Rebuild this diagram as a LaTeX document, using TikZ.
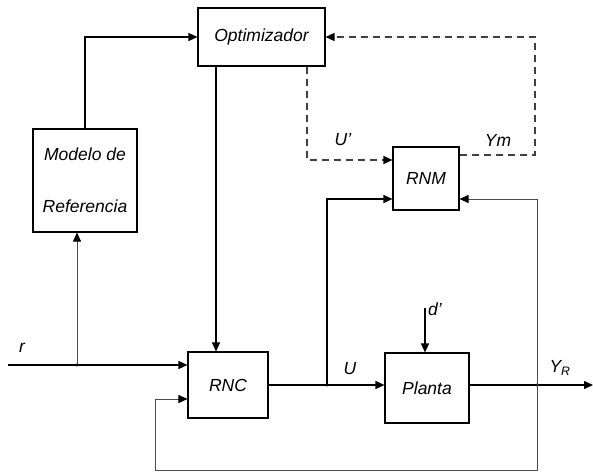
\documentclass[tikz,border=0pt]{standalone}
\usepackage{fontspec}
\setmainfont{Liberation Sans}
\usetikzlibrary{arrows.meta}
\begin{document}
\begin{tikzpicture}[x=1pt,y=-1pt,
  blk/.style={draw, line width=1.1pt, font=\fontsize{17.5}{21}\selectfont\itshape, inner sep=0pt, align=center},
  lbl/.style={font=\fontsize{17.5}{21}\selectfont\itshape, inner sep=0pt},
  tip/.tip={Triangle[length=9pt,width=8pt,color=black,fill=black]},
  arr/.style={line width=1.2pt, -tip},
  lite/.style={line width=0.9pt, draw=black!70},
  dsh/.style={line width=1.3pt, draw=black!75, dash pattern=on 7pt off 5pt},
  dot/.style={circle, fill, inner sep=1.2pt}]
\useasboundingbox (0,0) rectangle (593,474);
% blocks
\node[blk, minimum width=127pt, minimum height=58pt] (opt) at (261.5,37) {Optimizador};
\node[blk, minimum width=104pt, minimum height=103pt] (mod) at (85,180.5) {Modelo de\\[31pt]Referencia};
\node[blk, minimum width=80pt, minimum height=66pt] (rnc) at (228,385) {RNC};
\node[blk, minimum width=84pt, minimum height=70pt] (pla) at (427,388) {Planta};
\node[blk, minimum width=66pt, minimum height=63pt] (rnm) at (426,178.5) {RNM};
% coordinates
\coordinate (rin) at (8,365);
\coordinate (j1) at (77,365);
\coordinate (c1) at (216,0);
\coordinate (j2) at (327,385);
\coordinate (j3) at (537,385);
\coordinate (yout) at (593,385);
\coordinate (fb1) at (537,470);
\coordinate (fb2) at (155,470);
\coordinate (dtop) at (425,308);
\coordinate (dsx) at (307,0);
\coordinate (dex) at (535,0);
% reference path
\draw[arr] (rin) -- (rin -| rnc.west);
\draw[arr, lite] (j1) -- (j1 |- mod.south);
\node[dot] at (j1) {};
\draw[arr] (mod.north) |- (opt.west);
% optimizer to controller
\draw[arr] (opt.south -| c1) -- (rnc.north -| c1);
% controller to plant
\draw[arr] (rnc.east) -- (pla.west |- rnc.east);
\node[dot] at (j2) {};
\draw[arr] (j2) |- ([yshift=-20.5pt]rnm.west);
% plant output
\draw[arr] (pla.east |- j3) -- (yout);
\node[dot] at (j3) {};
\draw[arr, lite] (j3) |- ([yshift=-20.5pt]rnm.east);
\draw[arr, lite] (j3) -- (fb1) -- (fb2) |- ([yshift=-14pt]rnc.west);
% disturbance
\draw[arr] (dtop) -- (dtop |- pla.north);
% dashed optimizer loop
\draw[dsh, -tip] (opt.south -| dsx) |- ([yshift=18.5pt]rnm.west);
\draw[dsh, -tip] ([yshift=23.5pt]rnm.east) -| (dex |- opt.east) -- (opt.east);
% labels
\node[lbl] (lr) at (22,348) {r};
\node[lbl] (lup) at (343,140) {U'};
\node[lbl] (lym) at (498,140) {Ym};
\node[lbl] (lu) at (350,369) {U};
\node[lbl] (ld) at (435,309) {d'};
\node[lbl] (lyr) at (560,368) {Y\textsubscript{\textit{R}}};
\end{tikzpicture}
\end{document}
